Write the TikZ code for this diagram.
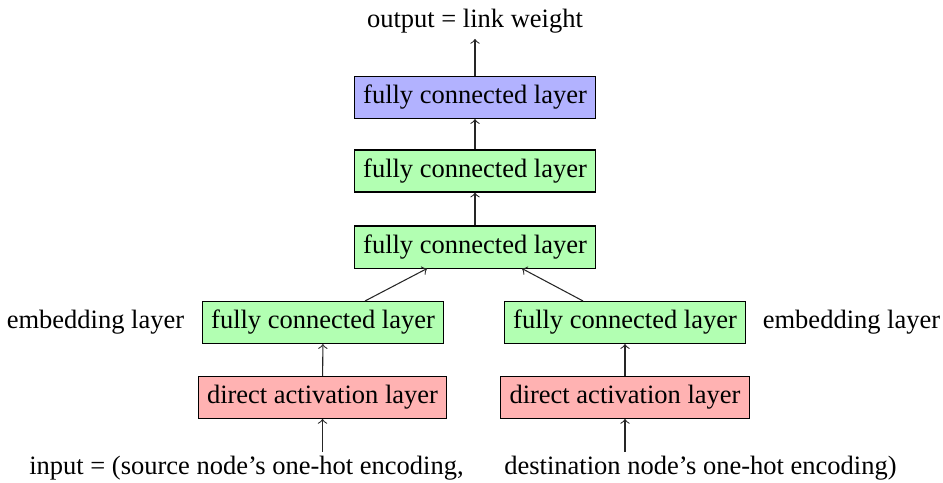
\documentclass[tikz,border=0pt]{standalone}
\usepackage{fontspec}
\setmainfont{Liberation Serif}
\usetikzlibrary{calc}
\begin{document}
\begin{tikzpicture}[x=0.3774pt,y=-0.3774pt,
  layerbox/.style={draw=black,rectangle,inner sep=3.33pt},
  fcblue/.style={layerbox,fill=blue!30},
  fcgreen/.style={layerbox,fill=green!30},
  dared/.style={layerbox,fill=red!30},
  plain/.style={inner sep=2pt},
  conn/.style={->,draw=black!85}]
\useasboundingbox (0,0) rectangle (943,482);
\node[plain] (out) at (475,21) {output = link weight};
\node[fcblue] (b) at (475,97.5) {fully connected layer};
\node[fcgreen] (g1) at (475,171) {fully connected layer};
\node[fcgreen] (g2) at (475,247) {fully connected layer};
\node[fcgreen] (lfc) at (323,322.5) {fully connected layer};
\node[fcgreen] (rfc) at (625,322.5) {fully connected layer};
\node[dared] (lda) at (322.5,397.5) {direct activation layer};
\node[dared] (rda) at (625,397.5) {direct activation layer};
\node[plain] (lemb) at (95.5,322) {embedding layer};
\node[plain] (remb) at (851.5,322) {embedding layer};
\node[plain] (lin) at (246.5,468) {input = (source node’s one-hot encoding,};
\node[plain] (rin) at (700.5,468) {destination node’s one-hot encoding)};
\coordinate (lsrc) at (322.5,452);
\coordinate (rsrc) at (625,452);
\draw[conn] (lsrc) -- (lda);
\draw[conn] (rsrc) -- (rda);
\draw[conn] (lda) -- (lfc);
\draw[conn] (rda) -- (rfc);
\draw[conn] ($(lfc.north)+(42,0)$) -- ($(g2.south)+(-48,0)$);
\draw[conn] ($(rfc.north)+(-42,0)$) -- ($(g2.south)+(47,0)$);
\draw[conn] (g2) -- (g1);
\draw[conn] (g1) -- (b);
\draw[conn] (b) -- (out);
\end{tikzpicture}
\end{document}
